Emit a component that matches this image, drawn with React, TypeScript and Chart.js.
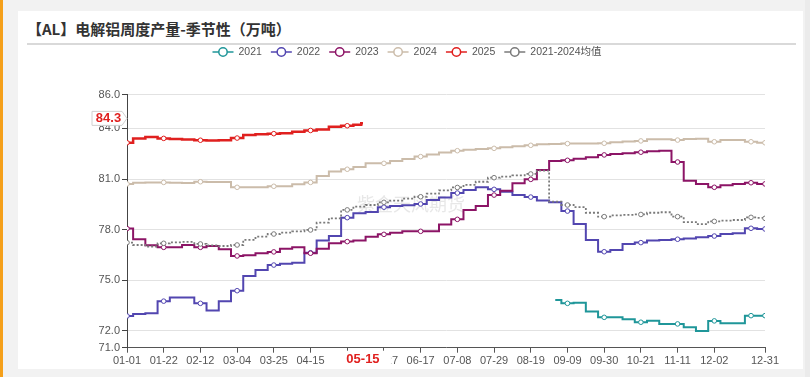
import React, { useEffect, useRef } from 'react';
import { Chart, registerables } from 'chart.js';
Chart.register(...registerables);

// day-of-year positions of weekly observations (leap-year calendar, 01-01 = day 0)
const weekDays = [0, 7, 14, 21, 28, 35, 42, 49, 56, 63, 70, 77, 84, 91, 98, 105, 112, 119, 126, 133, 140, 147, 154, 161, 168, 175, 182, 189, 196, 203, 210, 217, 224, 231, 238, 245, 252, 259, 266, 273, 280, 287, 294, 301, 308, 315, 322, 329, 336, 343, 350, 357, 364, 365];

const tickDays = [0, 21, 42, 63, 84, 105, 126, 147, 168, 189, 210, 231, 252, 273, 294, 315, 336, 365];
const tickLabels = ['01-01', '01-22', '02-12', '03-04', '03-25', '04-15', '05-06', '05-27', '06-17', '07-08', '07-29', '08-19', '09-09', '09-30', '10-21', '11-11', '12-02', '12-31'];
const markerDays = [0, 21, 42, 63, 84, 105, 126, 147, 168, 189, 210, 231, 252, 273, 294, 315, 336, 357, 365];
const yTicks = [71, 72, 75, 78, 81, 84, 86];

const N = null;
const s2021 = [N, N, N, N, N, N, N, N, N, N, N, N, N, N, N, N, N, N, N, N, N, N, N, N, N, N, N, N, N, N, N, N, N, N, N,
  73.83, 73.63, 73.67, 73.14, 72.8, 72.8, 72.69, 72.51, 72.6, 72.41, 72.41, 72.21, 71.99, 72.59, 72.45, 72.45, 72.9, 72.9, 72.9];
const s2022 = [72.88, 73.0, 73.04, 73.76, 73.97, 73.97, 73.63, 73.2, 73.75, 74.38, 75.25, 75.6, 75.9, 75.97, 76.04, 76.63, 77.35, 77.62, 78.71, 78.97, 79.05, 79.33, 79.4, 79.45, 79.52, 79.76, 79.9, 80.17, 80.35, 80.51, 80.39, 80.25, 80.05, 79.93, 79.72, 79.63, 79.1, 78.33, 77.39, 76.69, 76.79, 77.15, 77.23, 77.35, 77.39, 77.43, 77.47, 77.55, 77.62, 77.74, 77.78, 78.08, 78.04, 78.04];
const s2023 = [78.06, 77.43, 77.07, 76.95, 76.95, 77.09, 76.95, 77.03, 76.83, 76.44, 76.48, 76.6, 76.68, 76.87, 76.95, 76.6, 76.87, 77.19, 77.29, 77.35, 77.58, 77.72, 77.82, 77.9, 77.9, 77.9, 78.3, 78.61, 79.17, 79.4, 80.05, 80.31, 80.75, 80.98, 81.53, 82.07, 82.11, 82.2, 82.29, 82.43, 82.48, 82.53, 82.59, 82.64, 82.68, 82.01, 80.9, 80.7, 80.51, 80.63, 80.71, 80.78, 80.71, 80.71];
const s2024 = [80.71, 80.78, 80.8, 80.8, 80.78, 80.76, 80.84, 80.82, 80.82, 80.51, 80.51, 80.51, 80.57, 80.57, 80.69, 80.8, 81.18, 81.44, 81.58, 81.72, 81.93, 81.93, 82.07, 82.19, 82.33, 82.46, 82.58, 82.68, 82.74, 82.78, 82.82, 82.88, 82.94, 83.0, 83.06, 83.08, 83.1, 83.1, 83.11, 83.12, 83.18, 83.22, 83.26, 83.36, 83.36, 83.31, 83.37, 83.39, 83.21, 83.31, 83.31, 83.21, 83.15, 83.15];
const s2025 = [83.15, 83.4, 83.49, 83.41, 83.38, 83.35, 83.3, 83.28, 83.3, 83.43, 83.61, 83.65, 83.69, 83.72, 83.8, 83.88, 83.93, 84.1, 84.16, 84.22];
const latestDay = 135;
const latestLabel = '05-15';
const latestValue = 84.3;
const sAvg = [77.23, 77.09, 77.0, 77.19, 77.25, 77.27, 77.15, 77.07, 77.03, 77.09, 77.39, 77.58, 77.74, 77.82, 77.9, 77.98, 78.41, 78.67, 79.17, 79.36, 79.46, 79.62, 79.72, 79.84, 79.95, 80.13, 80.33, 80.5, 80.65, 80.84, 81.08, 81.14, 81.22, 81.3, 81.5, 79.66, 79.46, 79.33, 79.0, 78.77, 78.85, 78.87, 78.9, 79.0, 79.03, 78.77, 78.45, 78.33, 78.49, 78.53, 78.57, 78.73, 78.7, 78.67];

const seriesNames = ['2021', '2022', '2023', '2024', '2025', '2021-2024均值'];
const seriesColors = ['#1f9699', '#5246b0', '#8c1466', '#cbbcaa', '#e0201f', '#7a7a7a'];

const FONT = '"Liberation Sans", Arial, "Noto Sans CJK SC", sans-serif';

export default function App() {
  const ref = useRef<HTMLCanvasElement>(null);

  useEffect(() => {
    if (!ref.current) return;
    const toPts = (vals: (number | null)[]) =>
      vals.map((v, i) => (v == null ? null : { x: weekDays[i], y: v })).filter(Boolean) as { x: number; y: number }[];

    const pts2025 = toPts(s2025);
    pts2025.push({ x: latestDay, y: latestValue });

    const all = [toPts(s2021), toPts(s2022), toPts(s2023), toPts(s2024), pts2025, toPts(sAvg)];
    const widths = [2, 2, 2, 2, 2.5, 1.8];

    const datasets = all.map((data, i) => ({
      label: seriesNames[i],
      data,
      borderColor: seriesColors[i],
      backgroundColor: '#fff',
      borderWidth: widths[i],
      borderDash: i === 5 ? [2, 2] : [],
      stepped: 'middle' as const,
      fill: false,
      order: 6 - i,
      pointRadius: (c: any) => (c.raw && markerDays.includes(c.raw.x) && !(i === 4 && c.raw.x === latestDay) ? 2.3 : 0),
      pointBorderWidth: 1,
      pointBackgroundColor: '#fff',
      pointBorderColor: seriesColors[i],
      pointHoverRadius: 0,
    }));

    const overlay = {
      id: 'overlay',
      beforeDatasetsDraw(chart: any) {
        const ctx = chart.ctx;
        ctx.save();
        ctx.font = '18px "Noto Sans CJK SC"';
        ctx.fillStyle = 'rgba(185,185,185,0.35)';
        ctx.textBaseline = 'middle';
        ctx.textAlign = 'left';
        ctx.fillText('紫金天风期货', 357, 204);
        ctx.restore();
      },
      afterDraw(chart: any) {
        const ctx = chart.ctx;
        const xs = chart.scales.x;
        const ys = chart.scales.y;
        ctx.save();
        // legend
        ctx.font = '10.5px ' + FONT;
        ctx.textBaseline = 'middle';
        ctx.textAlign = 'left';
        const iconW = 21, gapT = 5, gapI = 9;
        const tw = seriesNames.map((n) => ctx.measureText(n).width);
        const total = tw.reduce((a, w) => a + iconW + gapT + w, 0) + gapI * (seriesNames.length - 1);
        let lx = 407 - total / 2;
        const ly = 52;
        seriesNames.forEach((n, i) => {
          ctx.strokeStyle = seriesColors[i];
          ctx.lineWidth = 1.5;
          ctx.beginPath();
          ctx.moveTo(lx, ly);
          ctx.lineTo(lx + iconW, ly);
          ctx.stroke();
          ctx.beginPath();
          ctx.arc(lx + iconW / 2, ly, 4.2, 0, Math.PI * 2);
          ctx.fillStyle = '#fff';
          ctx.fill();
          ctx.stroke();
          ctx.fillStyle = '#555';
          ctx.fillText(n, lx + iconW + gapT, ly + 0.5);
          lx += iconW + gapT + tw[i] + gapI;
        });

        // latest value tag on y axis
        const yy = ys.getPixelForValue(latestValue) - 5;
        const bl = 92, br = 122, tip = 127;
        ctx.beginPath();
        ctx.moveTo(bl, yy - 7);
        ctx.lineTo(br, yy - 7);
        ctx.lineTo(tip, yy);
        ctx.lineTo(br, yy + 7);
        ctx.lineTo(bl, yy + 7);
        ctx.closePath();
        ctx.fillStyle = '#fff';
        ctx.fill();
        ctx.strokeStyle = '#d0d0d0';
        ctx.lineWidth = 1;
        ctx.stroke();
        ctx.font = 'bold 13px ' + FONT;
        ctx.fillStyle = '#e0201f';
        ctx.textAlign = 'center';
        ctx.fillText(latestValue.toFixed(1), 108.5, yy + 0.5);

        // latest date tag on x axis
        const xx = xs.getPixelForValue(latestDay);
        ctx.fillStyle = '#fff';
        ctx.fillRect(xx - 30, ys.bottom + 3, 58, 18);
        ctx.fillStyle = '#e0201f';
        ctx.font = 'bold 13px ' + FONT;
        ctx.fillText(latestLabel, xx, ys.bottom + 12);
        ctx.restore();
      },
    };

    const chart = new Chart(ref.current, {
      type: 'line',
      data: { datasets: datasets as any },
      options: {
        animation: false,
        responsive: false,
        maintainAspectRatio: false,
        events: [],
        layout: { padding: { left: 0, right: 45, top: 94.7, bottom: 0 } },
        plugins: { legend: { display: false }, tooltip: { enabled: false } },
        scales: {
          x: {
            type: 'linear',
            min: 0,
            max: 365,
            afterBuildTicks: (s: any) => {
              s.ticks = tickDays.map((v) => ({ value: v }));
            },
            afterFit: (s: any) => {
              s.height = 29.3;
            },
            ticks: {
              autoSkip: false,
              maxRotation: 0,
              minRotation: 0,
              padding: 2,
              color: '#555',
              font: { family: FONT, size: 11 },
              callback: (v: any) => {
                const k = tickDays.indexOf(Number(v));
                return k >= 0 ? tickLabels[k] : '';
              },
            },
            grid: { drawOnChartArea: false, drawTicks: true, tickLength: 5, tickColor: '#555' },
            border: { color: '#555', width: 1 },
          },
          y: {
            min: 71,
            max: 86,
            afterBuildTicks: (s: any) => {
              s.ticks = yTicks.map((v) => ({ value: v }));
            },
            afterFit: (s: any) => {
              s.width = 127;
            },
            ticks: {
              padding: 2,
              color: '#555',
              font: { family: FONT, size: 11 },
              callback: (v: any) => Number(v).toFixed(1),
            },
            grid: { color: '#e2e2e2', drawTicks: true, tickLength: 5, tickColor: '#444' },
            border: { color: '#444', width: 1 },
          },
        },
      },
      plugins: [overlay],
    });
    return () => chart.destroy();
  }, []);

  return (
    <div style={{ position: 'fixed', left: 0, top: 0, width: 810, height: 377, background: '#f2f2f2', overflow: 'hidden' }}>
      <div style={{ position: 'absolute', left: 0, top: 0, width: 3, height: 377, background: '#f5a01a' }} />
      <div style={{ position: 'absolute', left: 805, top: 0, width: 5, height: 377, background: '#ebebeb' }} />
      <div style={{ position: 'absolute', left: 18, top: 11, width: 785, height: 358, background: '#fff' }} />
      <div
        style={{
          position: 'absolute',
          left: 27,
          top: 18,
          lineHeight: '22px',
          fontFamily: '"Noto Sans CJK SC", sans-serif',
          fontWeight: 'bold',
          fontSize: 15,
          color: '#333',
          whiteSpace: 'nowrap',
        }}
      >
        【AL】电解铝周度产量-季节性（万吨）
      </div>
      <div style={{ position: 'absolute', left: 27, top: 43, width: 769, height: 2, background: '#d9d9d9' }} />
      <canvas ref={ref} width={810} height={377} style={{ position: 'absolute', left: 0, top: 0, width: 810, height: 377 }} />
    </div>
  );
}
